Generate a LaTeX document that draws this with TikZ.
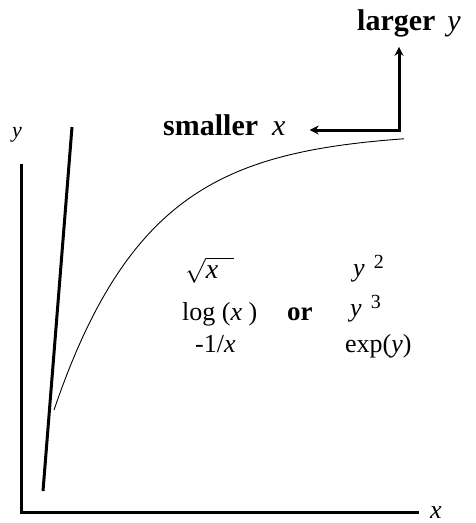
\documentclass[tikz,border=0pt]{standalone}
\usepackage{fontspec}
\setmainfont{Liberation Serif}
\usetikzlibrary{positioning,arrows.meta}

\begin{document}
\begin{tikzpicture}[x=1pt,y=-1pt,>={Stealth[length=9pt,width=9pt]},
  thickline/.style={line width=3pt},
  lbl/.style={inner sep=0pt,anchor=base west,font=\fontsize{26}{28}\selectfont},
  boldlbl/.style={inner sep=0pt,anchor=base west,font=\fontsize{30}{32}\selectfont\bfseries}]
\useasboundingbox (0,0) rectangle (475,523);
% axes
\coordinate (o) at (21,512);
\coordinate (ytop) at (21,164);
\coordinate (xend) at (419,512);
\draw[thickline] (ytop) -- (o) -- (xend);
\node (ylab) [lbl,font=\fontsize{22}{24}\selectfont] at (12,137) {\textit{y}};
\node (xlab) [lbl] at (430,518) {\textit{x}};
% steep line and curve
\coordinate (sb) at (43,491);
\coordinate (st) at (72,127);
\draw[thickline] (sb) -- (st);
\draw[line width=0.9pt] plot[domain=54:404,samples=90] (\x,{132+278*exp(-0.0106*(\x-54))});
% direction labels
\node (larger) [boldlbl] at (357,30) {larger\hspace{12pt}{\mdseries\itshape y}};
\node (smaller) [boldlbl] at (163,135) {smaller\hspace{14pt}{\mdseries\itshape x}};
\coordinate (bend) at (399,130);
\draw[<->,thickline] ([xshift=24pt]smaller.east |- bend) -- (bend) -- ([yshift=-10pt]bend |- larger.south);
% transformations
\node (sq) [lbl,font=\fontsize{28}{30}\selectfont] at (185,278) {$\sqrt{\textit{x}\hspace{16pt}}$};
\node (log) [lbl] at (182,320) {log (\textit{x} )};
\node (or) [lbl,font=\fontsize{27}{28}\selectfont\bfseries] at (287,320) {or};
\node (inv) [lbl] at (195,352) {-1/\textit{x}};
\node (ysq) [lbl] at (353,276) {\textit{y}\hspace{9pt}\raisebox{8pt}{\fontsize{20}{20}\selectfont 2}};
\node (ycube) [lbl] at (350,316) {\textit{y}\hspace{9pt}\raisebox{8pt}{\fontsize{20}{20}\selectfont 3}};
\node (expy) [lbl] at (345,352) {exp(\textit{y})};
\end{tikzpicture}
\end{document}
